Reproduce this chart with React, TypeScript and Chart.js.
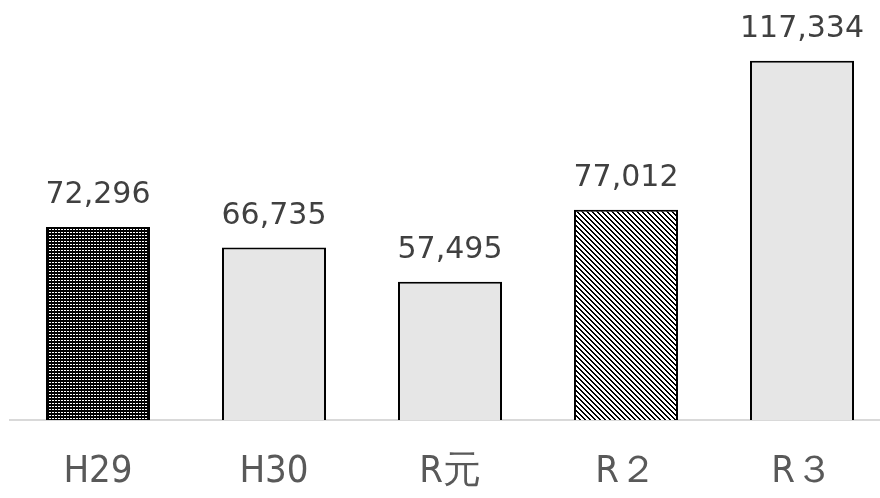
import React, { useEffect, useRef } from "react";
import { Chart, registerables } from "chart.js";

Chart.register(...registerables);

const categories = ["H29", "H30", "R元", "R２", "R３"];
const values = [72296, 66735, 57495, 77012, 117334];
const fillKinds = ["dots", "gray", "gray", "diag", "gray"];
const yMin = 20000;
const yMax = 120000;

function makeDots(): CanvasPattern | string {
  const c = document.createElement("canvas");
  c.width = 3;
  c.height = 3;
  const g = c.getContext("2d");
  if (!g) return "#000";
  g.fillStyle = "#000";
  g.fillRect(0, 0, 3, 3);
  g.fillStyle = "#fff";
  g.fillRect(1, 1, 2, 1);
  return g.createPattern(c, "repeat") || "#000";
}

function makeDiag(): CanvasPattern | string {
  const n = 5;
  const c = document.createElement("canvas");
  c.width = n;
  c.height = n;
  const g = c.getContext("2d");
  if (!g) return "#fff";
  g.fillStyle = "#fff";
  g.fillRect(0, 0, n, n);
  g.fillStyle = "#000";
  for (let y = 0; y < n; y++) {
    for (let x = 0; x < n; x++) {
      const d = (((x - y) % n) + n) % n;
      if (d === 0 || d === 1) g.fillRect(x, y, 1, 1);
    }
  }
  return g.createPattern(c, "repeat") || "#fff";
}

export default function App() {
  const ref = useRef<HTMLCanvasElement | null>(null);

  useEffect(() => {
    document.body.style.margin = "0";
    document.documentElement.style.overflow = "hidden";
    document.body.style.overflow = "hidden";
    const canvas = ref.current;
    if (!canvas) return;
    const dots = makeDots();
    const diag = makeDiag();
    const colors = fillKinds.map((k) =>
      k === "dots" ? dots : k === "diag" ? diag : "#e6e6e6"
    );

    const labelPlugin = {
      id: "valueLabels",
      afterDatasetsDraw(chart: any) {
        const ctx = chart.ctx;
        const meta = chart.getDatasetMeta(0);
        ctx.save();
        ctx.font = '30px "DejaVu Sans", Verdana, sans-serif';
        ctx.fillStyle = "#404040";
        ctx.textAlign = "center";
        ctx.textBaseline = "alphabetic";
        meta.data.forEach((bar: any, i: number) => {
          ctx.fillText(values[i].toLocaleString("en-US"), bar.x, bar.y - 24);
        });
        ctx.restore();
      },
    };

    const chart = new Chart(canvas, {
      type: "bar",
      data: {
        labels: categories,
        datasets: [
          {
            data: values,
            backgroundColor: colors as any,
            borderColor: "#000",
            borderWidth: 2,
            categoryPercentage: 1,
            barPercentage: 0.591,
          },
        ],
      },
      options: {
        animation: false,
        responsive: false,
        maintainAspectRatio: false,
        layout: { padding: { left: 10, right: 10, top: 51, bottom: 0 } },
        plugins: { legend: { display: false }, tooltip: { enabled: false } },
        scales: {
          x: {
            grid: { display: false, drawTicks: false },
            border: { display: true, color: "#d9d9d9", width: 2 },
            ticks: {
              color: "#595959",
              padding: 29,
              font: { family: '"DejaVu Sans Condensed", "DejaVu Sans", sans-serif', size: 38 },
            },
            afterFit: (scale: any) => {
              scale.height = 78;
            },
          },
          y: {
            display: false,
            min: yMin,
            max: yMax,
          },
        },
      },
      plugins: [labelPlugin],
    });
    return () => chart.destroy();
  }, []);

  return (
    <div style={{ width: 900, height: 498, overflow: "hidden" }}>
      <canvas ref={ref} width={900} height={498} style={{ display: "block", width: 900, height: 498 }} />
    </div>
  );
}
